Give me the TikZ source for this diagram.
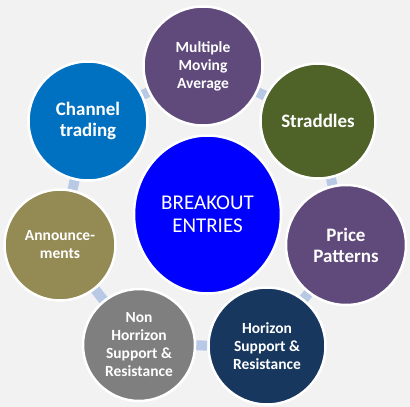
\documentclass[tikz,border=0pt]{standalone}
\usepackage{fontspec}
\setmainfont{Carlito}
\usetikzlibrary{positioning,shapes.geometric,backgrounds}
\definecolor{canvas}{HTML}{F2F2F2}
\definecolor{linkblue}{HTML}{B7C9E4}
\definecolor{hubblue}{HTML}{0000FF}
\definecolor{plum}{HTML}{604A7B}
\definecolor{seablue}{HTML}{0070C0}
\definecolor{olive}{HTML}{4F6228}
\definecolor{khaki}{HTML}{948A54}
\definecolor{slate}{HTML}{7F7F7F}
\definecolor{navy}{HTML}{17375E}
\tikzset{
  hub/.style={ellipse,draw=white,line width=2.5pt,fill=hubblue,text=white,
              minimum width=147pt,minimum height=158pt,align=center,
              inner sep=0pt,font=\fontsize{21}{23}\selectfont},
  spoke/.style={circle,draw=white,line width=2.5pt,text=white,align=center,
                inner sep=0pt,minimum size=117pt,
                font=\bfseries\fontsize{15.5}{18}\selectfont},
  bigspoke/.style={spoke,font=\bfseries\fontsize{19}{21}\selectfont},
  ringlink/.style={draw=linkblue,line width=10pt}
}
\begin{document}
\begin{tikzpicture}[x=1pt,y=-1pt]
  \useasboundingbox (0,0) rectangle (410,407);
  % outer ring
  \node[spoke,fill=plum,minimum size=119pt] (mma) at (203,66) {Multiple\\Moving\\Average};
  \node[bigspoke,fill=olive,minimum size=115pt] (strad) at (318,121) {Straddles};
  \node[bigspoke,fill=plum,minimum size=120pt] (price) at (346,245) {Price\\Patterns};
  \node[spoke,fill=navy,minimum size=117pt] (horiz) at (267,346) {Horizon\\Support \&\\Resistance};
  \node[spoke,fill=slate,minimum size=112pt] (nonhor) at (139,345) {Non\\Horrizon\\Support \&\\Resistance};
  \node[spoke,fill=khaki,minimum size=111pt] (annc) at (60,245) {Announce-\\ments};
  \node[bigspoke,fill=seablue,minimum size=119pt] (chan) at (88,121) {Channel\\trading};
  % centre
  \node[hub] (core) at (207.5,214.5) {BREAKOUT\\ENTRIES};
  \begin{scope}[on background layer]
    \fill[canvas] (0,0) rectangle (410,407);
    \foreach \a/\b in {mma/strad,strad/price,price/horiz,horiz/nonhor,
                       nonhor/annc,annc/chan,chan/mma}
      \draw[ringlink] (\a) -- (\b);
  \end{scope}
\end{tikzpicture}
\end{document}
